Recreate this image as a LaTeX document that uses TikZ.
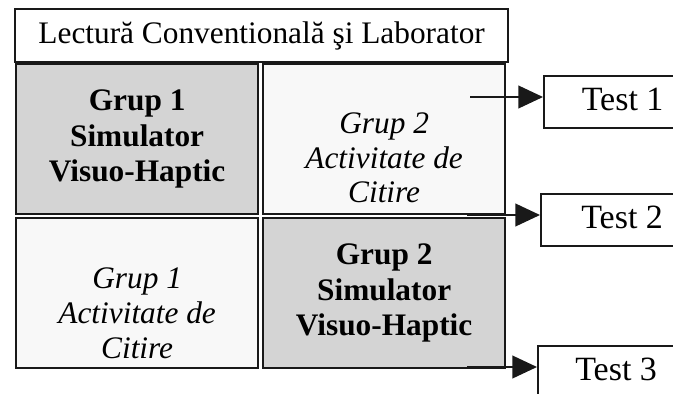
\documentclass[tikz,border=0pt]{standalone}
\usepackage{fontspec}
\setmainfont{Liberation Serif}
\usetikzlibrary{arrows.meta, positioning}
\definecolor{cellgray}{RGB}{212,212,212}
\definecolor{celllight}{RGB}{248,248,248}
\definecolor{edgecolor}{RGB}{25,25,25}

\begin{document}
\begin{tikzpicture}[
    x=0.75pt, y=-0.75pt,
    box/.style={draw=edgecolor, line width=1.7pt, inner sep=0pt},
    cell/.style={box, minimum width=181.5pt, minimum height=112.5pt, anchor=north west},
    boldtext/.style={font=\fontsize{23.5}{26.5}\selectfont\bfseries, align=center},
    italtext/.style={font=\fontsize{23.5}{26}\selectfont\itshape, align=center},
    testbox/.style={box, fill=white, anchor=north west, minimum height=39pt, text depth=4pt, font=\fontsize{25.5}{30}\selectfont},
    result/.style={-{Triangle[length=18.5pt, width=17pt]}, line width=1.5pt, draw=edgecolor}
]
    \fill[white] (0,0) rectangle (673,393);
    \useasboundingbox (0,0) rectangle (673,393);

    % Header
    \node[box, anchor=north west, minimum width=369.75pt, minimum height=39.75pt,
          font=\fontsize{23.5}{28}\selectfont] (lecture) at (14,8) {Lectură Conventională şi Laborator};

    % Group cells
    \node[cell, fill=cellgray, boldtext] (g1sim) at (15,63) {Grup 1\\Simulator\\Visuo-Haptic};
    \node[cell, fill=celllight] (g2read) at (262,63) {};
    \node[cell, fill=celllight] (g1read) at (15,217) {};
    \node[cell, fill=cellgray, boldtext] (g2sim) at (262,217) {Grup 2\\Simulator\\Visuo-Haptic};

    \node[italtext] (g2readtxt) at ([yshift=-14pt]g2read.center) {Grup 2\\Activitate de\\Citire};
    \node[italtext] (g1readtxt) at ([yshift=-15pt]g1read.center) {Grup 1\\Activitate de\\Citire};

    % Tests
    \node[testbox, minimum width=117.75pt] (test1) at (543,75) {Test 1};
    \node[testbox, minimum width=121.5pt] (test2) at (540,193) {Test 2};
    \node[testbox, minimum width=117pt] (test3) at (537,345) {Test 3};

    \coordinate (from1) at (470,97);
    \coordinate (from2) at (467,215);
    \coordinate (from3) at (467,367);

    \draw[result] (from1) -- (from1 -| test1.west);
    \draw[result] (from2) -- (from2 -| test2.west);
    \draw[result] (from3) -- (from3 -| test3.west);
\end{tikzpicture}
\end{document}
